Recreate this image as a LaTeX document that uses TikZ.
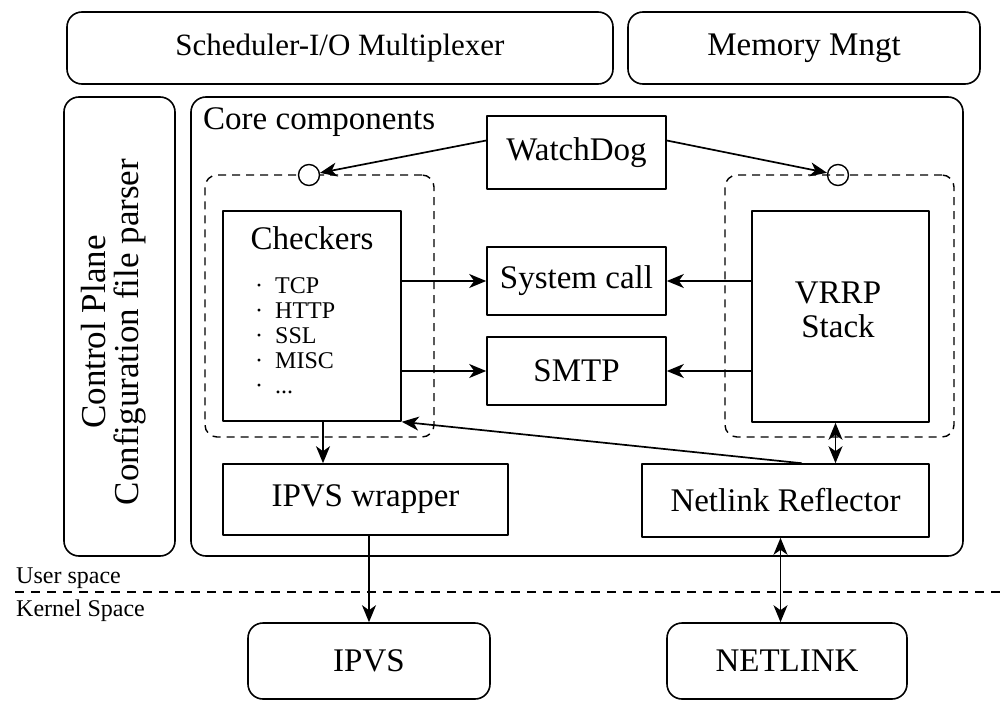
\documentclass[tikz,border=0pt]{standalone}
\usepackage{fontspec}
\setmainfont{Liberation Serif}
\usetikzlibrary{arrows.meta,positioning}

\begin{document}
\begin{tikzpicture}[
  x=1pt,
  y=-1pt,
  line cap=round,
  line join=round,
  font=\fontsize{33}{34}\selectfont,
  plainbox/.style={draw, line width=1.6pt, inner sep=0pt},
  roundbox/.style={plainbox, rounded corners=15pt},
  groupbox/.style={draw, line width=1.4pt, line cap=butt,
    dash pattern=on 8pt off 6pt, rounded corners=12pt, inner sep=0pt},
  port/.style={draw, line width=1.4pt, circle, minimum size=21pt, inner sep=0pt},
  arr/.style={line width=1.7pt, -{Stealth[length=17pt,width=14pt,inset=5pt]}},
  darr/.style={line width=1.7pt,
    {Stealth[length=17pt,width=14pt,inset=5pt]}-{Stealth[length=17pt,width=14pt,inset=5pt]}},
  small/.style={font=\fontsize{24}{25}\selectfont}
]
  \useasboundingbox (0,0) rectangle (1001,709);

  % Верхний ряд
  \node[roundbox, minimum width=546pt, minimum height=72pt,
        font=\fontsize{31}{34}\selectfont]
    (sched) at (340,48) {Scheduler-I/O Multiplexer};
  \node[roundbox, minimum width=352pt, minimum height=72pt]
    (mem) at (804,48) {Memory Mngt};

  % Control Plane
  \node[roundbox, minimum width=111pt, minimum height=459pt]
    (ctrl) at (119.5,326.5) {};
  \node[rotate=90, align=center, inner sep=0pt, font=\fontsize{35}{33}\selectfont]
    (ctrltext) at (114,332) {Control Plane\\Configuration file parser};

  % Core components
  \node[roundbox, minimum width=772pt, minimum height=459pt]
    (core) at (577,326.5) {};
  \node[anchor=base west, inner sep=0pt]
    (coretitle) at (203,129) {Core components};

  \node[plainbox, minimum width=179pt, minimum height=73pt]
    (watchdog) at (576.5,152.5) {WatchDog};

  % Пунктирные группы и точки подключения
  \node[groupbox, minimum width=229pt, minimum height=262pt]
    (leftgrp) at (319.5,306) {};
  \node[groupbox, minimum width=229pt, minimum height=262pt]
    (rightgrp) at (839.5,306) {};
  \node[port, fill=white] (leftport) at (309,175) {};
  \node[port] (rightport) at (838,175) {};

  % Checkers
  \node[plainbox, minimum width=178pt, minimum height=210pt]
    (checkers) at (312,316) {};
  \node[anchor=base, inner sep=0pt] (chktitle) at (312,249) {Checkers};
  \node[small, anchor=north west, align=left, inner sep=0pt]
    (chklist) at (255,277)
    {·\enspace TCP\\·\enspace HTTP\\·\enspace SSL\\·\enspace MISC\\·\enspace ...};

  \node[plainbox, minimum width=179pt, minimum height=68pt]
    (syscall) at (576.5,281) {System call};
  \node[plainbox, minimum width=179pt, minimum height=68pt]
    (smtp) at (576.5,371) {SMTP};

  \node[plainbox, minimum width=177pt, minimum height=211pt]
    (vrrp) at (840.5,316.5) {};
  \node[align=center, inner sep=0pt] (vrrptext) at (838,310) {VRRP\\Stack};

  \node[plainbox, minimum width=285pt, minimum height=71pt]
    (ipvsw) at (365.5,499.5) {IPVS wrapper};
  \node[plainbox, minimum width=287pt, minimum height=73pt]
    (netref) at (785.5,500.5) {Netlink Reflector};

  % Ядро
  \node[roundbox, minimum width=242pt, minimum height=76pt]
    (ipvs) at (369,661) {IPVS};
  \node[roundbox, minimum width=240pt, minimum height=76pt]
    (netlink) at (787,661) {NETLINK};

  % Граница user / kernel
  \coordinate (sepL) at (15,592);
  \coordinate (sepR) at (1001,592);
  \draw[line width=1.4pt, line cap=butt, dash pattern=on 9pt off 7pt]
    (sepL) -- (sepR);
  \node[small, anchor=base west, inner sep=0pt] (userlbl) at (16,583) {User space};
  \node[small, anchor=base west, inner sep=0pt] (kernlbl) at (16,616) {Kernel Space};

  % Связи
  \draw[arr] ([yshift=12pt]watchdog.west) -- (leftport);
  \draw[arr] ([yshift=12pt]watchdog.east) -- (rightport);

  \draw[arr] (checkers.east |- syscall.west) -- (syscall.west);
  \draw[arr] (checkers.east |- smtp.west) -- (smtp.west);
  \draw[arr] (vrrp.west |- syscall.east) -- (syscall.east);
  \draw[arr] (vrrp.west |- smtp.east) -- (smtp.east);

  \draw[arr] ([xshift=11pt]checkers.south)
    -- ([xshift=11pt]checkers.south |- ipvsw.north);
  \draw[arr] ([xshift=16pt]netref.north) -- (checkers.south east);
  \draw[darr] ([xshift=-5pt]vrrp.south)
    -- ([xshift=-5pt]vrrp.south |- netref.north);

  \draw[darr] ([xshift=-5pt]netref.south)
    -- ([xshift=-5pt]netref.south |- netlink.north);
  \draw[arr] (ipvs.north |- ipvsw.south) -- (ipvs.north);
\end{tikzpicture}
\end{document}
